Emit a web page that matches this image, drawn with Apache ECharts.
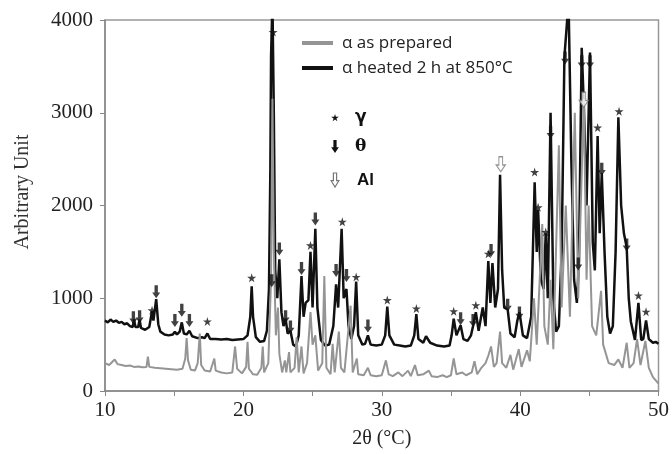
<!DOCTYPE html>
<html>
<head>
<meta charset="utf-8">
<script src="https://cdn.jsdelivr.net/npm/echarts@6/dist/echarts.min.js"></script>
<style>html,body{margin:0;padding:0;background:#fff}#c{width:672px;height:454px}</style>
</head>
<body>
<div id="c"></div>
<script>
// Tick labels
const xTicks = [10, 20, 30, 40, 50];
const yTicks = [0, 1000, 2000, 3000, 4000];

// Series names
const seriesNames = ['α as prepared', 'α heated 2 h at 850°C'];

// α heated 2 h at 850°C : [2θ, intensity]
const heated = [
 [10.0,760],[10.2,740],[10.4,770],[10.6,745],[10.8,760],[11.0,735],[11.2,745],[11.4,720],[11.6,730],[11.8,700],
 [12.0,690],[12.1,770],[12.2,690],[12.4,690],[12.5,770],[12.6,680],[12.9,660],[13.2,690],[13.4,860],[13.5,760],
 [13.7,990],[13.85,720],[14.0,640],[14.3,610],[14.6,600],[14.9,610],[15.05,640],[15.2,610],[15.4,640],[15.55,740],
 [15.7,620],[15.9,610],[16.1,650],[16.3,590],[16.7,570],[17.0,580],[17.2,570],[17.4,620],[17.6,560],[18.0,560],
 [18.4,555],[18.8,560],[19.2,550],[19.6,555],[20.0,560],[20.3,600],[20.5,800],[20.6,1130],[20.7,800],[20.9,580],
 [21.2,530],[21.5,540],[21.7,650],[21.85,1100],[21.95,2400],[22.0,3600],[22.1,4200],[22.2,3000],[22.3,1300],[22.45,1000],
 [22.6,1420],[22.75,850],[22.9,700],[23.05,780],[23.2,620],[23.4,650],[23.6,500],[23.8,480],[24.0,600],[24.2,1240],
 [24.35,800],[24.5,950],[24.7,980],[24.85,1500],[25.0,900],[25.2,1750],[25.35,900],[25.6,550],[25.9,490],[26.2,500],
 [26.5,700],[26.7,1150],[26.85,900],[27.1,1750],[27.25,1000],[27.45,1100],[27.6,700],[27.8,560],[28.0,700],[28.15,1180],
 [28.3,600],[28.6,500],[28.8,510],[29.0,600],[29.2,500],[29.6,490],[30.0,500],[30.25,600],[30.4,910],[30.55,600],
 [30.9,500],[31.3,490],[31.7,480],[32.1,490],[32.35,600],[32.5,830],[32.65,560],[33.0,520],[33.2,590],[33.5,520],
 [34.0,490],[34.5,480],[34.9,490],[35.05,600],[35.2,780],[35.4,600],[35.7,710],[35.9,560],[36.2,540],[36.45,600],
 [36.6,700],[36.8,850],[37.0,650],[37.3,900],[37.5,700],[37.7,1400],[37.85,950],[38.0,1380],[38.2,900],[38.4,1100],
 [38.55,2330],[38.7,1300],[38.85,900],[39.1,880],[39.3,620],[39.6,580],[39.8,760],[39.95,850],[40.2,600],[40.5,570],
 [40.8,800],[41.05,2250],[41.2,1500],[41.3,1950],[41.5,1200],[41.7,1100],[41.85,1700],[42.0,1000],[42.2,3000],[42.4,1000],
 [42.6,640],[42.8,700],[43.0,1500],[43.2,3600],[43.5,4200],[43.7,2500],[43.9,1200],[44.1,950],[44.25,1400],[44.45,3700],
 [44.6,3100],[44.8,2000],[45.05,3650],[45.25,1600],[45.4,1300],[45.6,2750],[45.75,1700],[45.9,2350],[46.1,1500],[46.3,800],
 [46.5,620],[46.7,700],[46.9,1500],[47.1,2950],[47.3,2000],[47.5,1700],[47.7,1550],[47.85,1000],[48.0,750],[48.3,550],
 [48.55,950],[48.75,550],[48.9,560],[49.1,760],[49.3,560],[49.6,520],[49.8,530],[50.0,510]
];

// α as prepared : [2θ, intensity]
const prepared = [
 [10.0,300],[10.3,280],[10.5,310],[10.7,340],[10.9,290],[11.2,280],[11.5,270],[11.8,275],[12.1,260],[12.4,265],
 [12.7,255],[13.0,260],[13.1,370],[13.2,260],[13.6,250],[14.0,245],[14.4,240],[14.8,235],[15.2,230],[15.6,240],
 [15.8,350],[15.9,570],[16.0,330],[16.2,230],[16.5,220],[16.7,300],[16.85,620],[16.95,280],[17.2,220],[17.6,210],
 [17.9,350],[18.0,220],[18.4,200],[18.8,190],[19.2,200],[19.4,480],[19.55,240],[19.9,190],[20.2,260],[20.3,530],
 [20.4,240],[20.7,180],[21.0,175],[21.3,250],[21.4,480],[21.5,200],[21.8,300],[22.0,1200],[22.1,3150],[22.2,1500],
 [22.35,600],[22.5,900],[22.6,400],[22.8,200],[23.0,330],[23.1,200],[23.3,420],[23.4,200],[23.7,250],[23.85,580],
 [24.0,200],[24.2,480],[24.35,190],[24.6,300],[24.85,850],[25.0,500],[25.2,600],[25.4,220],[25.7,300],[25.85,1240],
 [26.0,250],[26.3,180],[26.45,510],[26.6,200],[26.9,640],[27.05,250],[27.3,200],[27.75,920],[27.9,200],[28.2,350],
 [28.3,180],[28.7,170],[29.0,250],[29.2,170],[29.6,160],[30.0,170],[30.3,330],[30.5,180],[30.8,160],[31.2,200],
 [31.5,160],[31.9,220],[32.1,160],[32.4,280],[32.6,170],[33.0,180],[33.4,220],[33.6,160],[34.0,150],[34.4,170],
 [34.7,150],[35.0,170],[35.2,350],[35.4,180],[35.8,200],[36.1,170],[36.5,200],[36.7,320],[36.9,180],[37.2,250],
 [37.5,300],[37.7,380],[37.9,480],[38.1,260],[38.3,300],[38.55,640],[38.7,300],[39.0,250],[39.3,390],[39.5,230],
 [39.9,450],[40.1,260],[40.5,440],[40.7,320],[41.0,1000],[41.2,500],[41.6,1800],[41.75,700],[42.0,500],[42.2,1200],
 [42.4,450],[42.8,2650],[43.0,900],[43.3,2000],[43.6,800],[43.95,3000],[44.2,1000],[44.6,3150],[44.8,1200],[44.95,2000],
 [45.2,700],[45.5,600],[45.85,1080],[46.0,500],[46.4,300],[46.8,280],[47.1,340],[47.4,250],[47.7,520],[47.9,250],
 [48.2,300],[48.45,560],[48.7,280],[49.05,540],[49.3,250],[49.6,150],[50.0,80]
];

// Peak markers [2θ, intensity at marker]
const gammaMarks = [
 [13.4,870],[17.4,750],[20.6,1220],[22.15,3870],[24.85,1570],[27.15,1825],[28.15,1230],[30.4,980],[32.5,890],
 [35.2,860],[36.8,925],[37.7,1480],[41.05,2360],[41.3,1980],[41.85,1715],[45.6,2840],[47.15,3015],[48.55,1030],[49.1,855]
];
const thetaMarks = [
 [12.05,790],[12.5,800],[13.7,1070],[15.05,760],[15.55,870],[16.1,760],[22.05,1190],[22.6,1530],[23.05,800],[23.4,690],
 [24.2,1320],[25.2,1855],[26.7,1300],[27.45,1245],[29.0,700],[35.7,780],[36.6,760],[37.9,1515],[39.1,925],[39.95,840],
 [42.2,2790],[43.25,3590],[44.2,1370],[44.45,3550],[45.05,3550],[45.9,2390],[47.7,1575]
];
const alMarks = [[38.6,2445],[44.6,3140]];

const STAR_PTS = [[50,0],[61,35],[98,35],[68,57],[79,91],[50,70],[21,91],[32,57],[2,35],[39,35]];
const ARROW_PTS = [[30,0],[70,0],[70,55],[98,55],[50,100],[2,55],[30,55]];
const toPath = pts => 'path://' + pts.map((p, i) => (i ? 'L' : 'M') + p[0] + ',' + p[1]).join(' ') + ' Z';
const fit = (pts, x, y, w, h) => pts.map(p => [x + p[0] * w / 100, y + p[1] * h / 100]);

const chart = echarts.init(document.getElementById('c'), null, {renderer: 'canvas'});
const serif = '"Liberation Serif", "Times New Roman", serif';
chart.setOption({
  animation: false,
  backgroundColor: '#fff',
  grid: {left: 105, right: 12, top: 20, bottom: 61, show: true, borderColor: '#999', borderWidth: 1.5},
  legend: {
    data: seriesNames,
    orient: 'vertical', left: 297, top: 28, itemGap: 5,
    icon: 'rect', itemWidth: 31, itemHeight: 4,
    textStyle: {fontFamily: 'Open Sans', fontSize: 17, color: '#222', lineHeight: 20, padding: [0,0,0,4]}
  },
  xAxis: {
    type: 'value', min: 10, max: 50, interval: 5,
    name: '2θ (°C)', nameLocation: 'middle', nameGap: 38,
    nameTextStyle: {fontFamily: serif, fontSize: 20, color: '#222'},
    axisLine: {lineStyle: {color: '#888', width: 1.5}},
    axisTick: {show: true, length: 5, lineStyle: {color: '#888'}},
    axisLabel: {fontFamily: serif, fontSize: 21, color: '#222', margin: 9,
      formatter: v => xTicks.includes(v) ? String(v) : ''},
    splitLine: {show: false}
  },
  yAxis: {
    type: 'value', min: yTicks[0], max: yTicks[yTicks.length-1], interval: 1000,
    axisLine: {show: true, lineStyle: {color: '#888', width: 1.5}},
    axisTick: {show: true, length: 5, lineStyle: {color: '#888'}},
    axisLabel: {fontFamily: serif, fontSize: 21, color: '#222', margin: 12,
      formatter: v => yTicks.includes(v) ? String(v) : ''},
    splitLine: {show: false}
  },
  graphic: [
    {type: 'text', x: 23, y: 192, rotation: Math.PI/2,
     style: {text: 'Arbitrary Unit', fontFamily: serif, fontSize: 20, fill: '#333', align: 'center', verticalAlign: 'middle'}},
    {type: 'polygon', shape: {points: fit(STAR_PTS, 331, 114, 8, 8)}, style: {fill: '#111'}},
    {type: 'text', x: 355, y: 118, style: {text: 'γ', fontFamily: 'DejaVu Sans', fontWeight: 'bold', fontSize: 17, fill: '#111', verticalAlign: 'middle'}},
    {type: 'polygon', shape: {points: fit(ARROW_PTS, 331, 140, 8, 13)}, style: {fill: '#111'}},
    {type: 'text', x: 355, y: 147, style: {text: 'θ', fontFamily: 'DejaVu Serif', fontWeight: 'bold', fontSize: 17, fill: '#111', verticalAlign: 'middle'}},
    {type: 'polygon', shape: {points: fit(ARROW_PTS, 331, 173, 8, 14)}, style: {fill: '#fff', stroke: '#777', lineWidth: 1.2}},
    {type: 'text', x: 357, y: 180, style: {text: 'Al', fontFamily: 'Liberation Sans', fontWeight: 'bold', fontSize: 17, fill: '#111', verticalAlign: 'middle'}}
  ],
  series: [
    {name: seriesNames[1], type: 'line', data: heated, showSymbol: false, z: 2,
     lineStyle: {color: '#111', width: 2.5}, itemStyle: {color: '#111'}},
    {name: seriesNames[0], type: 'line', data: prepared, showSymbol: false, z: 3,
     lineStyle: {color: '#959595', width: 2}, itemStyle: {color: '#959595'}},
    {name: 'γ', type: 'scatter', data: gammaMarks, symbol: toPath(STAR_PTS), symbolSize: [9, 9], z: 5,
     itemStyle: {color: '#111'}},
    {name: 'θ', type: 'scatter', data: thetaMarks, symbol: toPath(ARROW_PTS), symbolSize: [8, 13], z: 5,
     itemStyle: {color: '#111'}},
    {name: 'Al', type: 'scatter', data: alMarks, symbol: toPath(ARROW_PTS), symbolSize: [9, 15], z: 5,
     itemStyle: {color: '#fff', borderColor: '#777', borderWidth: 1.2}}
  ]
});
</script>
</body>
</html>
